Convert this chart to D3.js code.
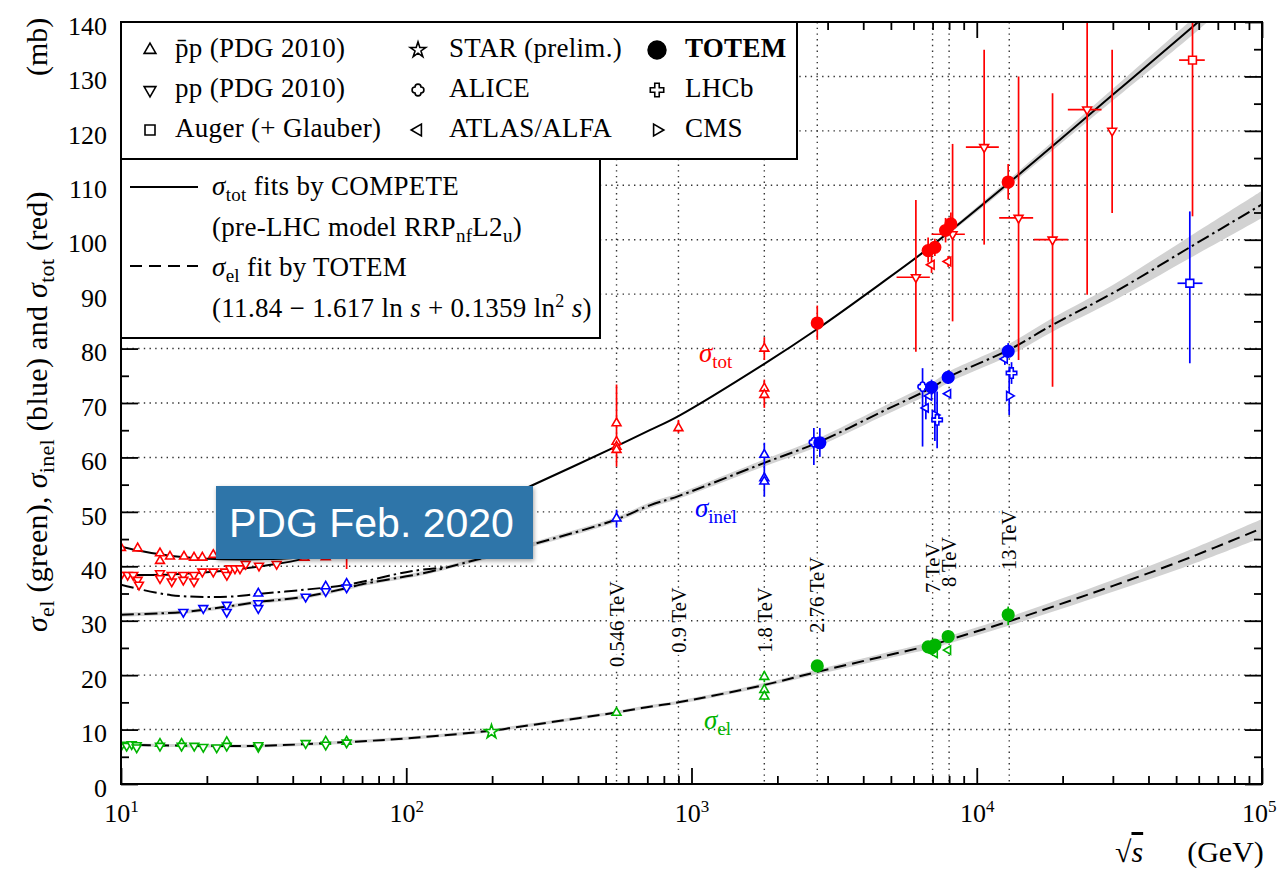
<!DOCTYPE html>
<html>
<head>
<meta charset="utf-8">
<script src="https://cdn.jsdelivr.net/npm/d3@7"></script>
<style>
  body { margin: 0; background: #fff; }
  svg { display: block; }
  svg text { font-family: "Liberation Serif", serif; }
  svg text.sans { font-family: "Liberation Sans", sans-serif; }
</style>
</head>
<body>
<svg id="chart" width="1277" height="876"></svg>
<script>
// ---------- data (sqrt s in GeV, cross sections in mb) ----------
const decades = [10, 100, 1000, 10000, 100000]
const yMajor = d3.range(0, 141, 10)
const yMinor = d3.range(5, 140, 10)
const energies = [546, 900, 1800, 2760, 7000, 8000, 13000]
const energyNames = ['0.546 TeV', '0.9 TeV', '1.8 TeV', '2.76 TeV', '7 TeV', '8 TeV', '13 TeV']

// fit curves [sqrt s, mb] and band half widths
const fitTot = [[10, 43.6], [12, 42.7], [15, 41.9], [20, 41.4], [30, 41.3], [50, 42.0], [100, 45.6], [200, 51.6],
  [272, 54.7], [538, 61.9], [714, 65.0], [900, 67.6], [1800, 77.2], [2760, 83.6], [4570, 91.8], [7000, 99.0],
  [13000, 110.5], [31200, 127.4], [59700, 140.0], [70000, 143.3]]
const bandTot = [0, 0, 0, 0, 0, 0, 0, 0, 0, 0, 0, 0, 0, 0, 0, 0.3, 0.6, 1.1, 1.5, 1.6]
const fitTotPp = [[10, 38.4], [15, 38.5], [20, 38.9], [25, 39.4], [30, 39.9], [35, 40.4], [45, 41.5], [60, 43.0], [80, 44.5], [100, 45.6]]
const fitInelPbarp = [[10, 36.6], [15, 34.7], [23.5, 34.4], [30, 34.9], [44, 35.7], [62, 36.6], [104, 39.1], [137, 39.8]]
const fitInel = [[10, 31.1], [16.5, 31.6], [23.5, 32.6], [30, 33.4], [44, 34.4], [62, 36.0], [70, 36.7], [104, 38.3],
  [121, 39.0], [137, 39.7], [272, 43.9], [538, 48.5], [714, 51.2], [900, 52.9], [1800, 59.0], [2760, 62.7],
  [4570, 68.2], [7000, 72.9], [8000, 74.8], [13000, 79.8], [18500, 84.4], [30000, 90.2], [55800, 98.6], [100000, 106.5]]
const bandInel = [0.35, 0.35, 0.35, 0.35, 0.35, 0.35, 0.35, 0.35, 0.35, 0.35, 0.4, 0.45, 0.5, 0.5, 0.65, 0.75,
  0.85, 0.95, 1.0, 1.1, 1.25, 1.5, 2.0, 2.5]
const fitEl = [[10, 7.2], [20, 7.0], [30, 7.0], [62, 7.7], [107, 8.5], [199, 9.8], [240, 10.4], [538, 13.1], [714, 14.2],
  [900, 15.0], [1800, 18.2], [2760, 20.6], [4570, 23.3], [7000, 25.6], [8000, 26.5], [13000, 29.9], [19500, 33.0],
  [30000, 36.4], [51000, 40.8], [100000, 47.0]]
const bandEl = [0.3, 0.3, 0.3, 0.3, 0.3, 0.3, 0.3, 0.3, 0.3, 0.3, 0.35, 0.45, 0.55, 0.65, 0.7, 0.8, 0.95, 1.1, 1.35, 1.7]

// measurements: [sqrt s, value, errLo, errHi, sLo, sHi]
const totPbarp = [[10, 43.4], [11.44, 43.3], [13.7, 42.4], [13.7, 41.0], [14.85, 41.8], [16.63, 41.8], [18.03, 41.6],
  [19.28, 41.6], [21.06, 42.1], [44, 41.6], [52.2, 41.7], [61.8, 42.5, 39.5, 45.5],
  [546, 66.3, 58.3, 73.4], [546, 62.9], [546, 62.0], [546, 61.4], [900, 65.4, 64.5, 66.9],
  [1800, 80.0, 77.9, 82.1], [1800, 72.7, 69.1, 74.3], [1800, 71.5]]
const totPp = [[10, 38.4], [10.55, 38.4], [11.04, 38.4], [11.44, 37.5], [11.56, 36.6], [13.7, 38.7], [13.7, 37.8],
  [15.06, 37.2], [15.06, 38.4], [16.54, 38.4], [16.54, 37.5], [18.03, 38.4], [18.03, 37.2], [19.28, 39.0],
  [21.06, 39.0], [23.15, 39.0], [23.5, 38.4], [24.1, 39.6], [25.09, 39.6], [26.13, 39.6], [27.36, 40.4],
  [30.46, 40.1], [35.13, 40.4],
  [6118, 93.1, 79.4, 107.3, 5235, 6848], [8228, 101.0, 85.0, 117.6, 6943, 9085],
  [10616, 117.0, 99.1, 134.9, 9159, 11951], [14015, 104.0, 77.9, 130.0, 11982, 15766],
  [18438, 100.0, 73.0, 126.9, 15853, 20860], [24380, 123.9, 89.9, 150, 20860, 27380],
  [29830, 120.0, 104.9, 134.9]]
const totAuger = [[57070, 133.0, 104.3, 150, 51210, 63010]]
const totTotem = [[2760, 84.7, 81.6, 87.9], [6754, 98.0, 95.8, 100.4], [7131, 98.6, 97.0, 100.2],
  [7775, 101.7, 99.5, 104.0], [8115, 102.9, 101.3, 105.0], [12888, 110.6, 107.4, 113.9]]
const totAtlas = [[6943, 95.4, 93.9, 97.6], [7940, 96.0, 95.0, 97.0]]

const inelPbarp = [[30.29, 35.0], [52.2, 36.3], [61.8, 36.8], [546, 48.8, 47.1, 50.4],
  [1800, 60.5, 58.5, 62.7], [1800, 56.2, 52.8, 58.5], [1800, 55.6]]
const inelPp = [[16.54, 31.6], [19.43, 32.3], [23.48, 32.9], [23.48, 31.6], [30.29, 33.2], [30.29, 32.3],
  [44.4, 34.4], [52.2, 35.4], [61.8, 36.1]]
const inelAuger = [[55840, 92.0, 77.3, 105.2, 50560, 61850]]
const inelTotem = [[2818, 62.7, 60.1, 65.4], [6943, 72.9, 71.5, 74.3], [7940, 74.7, 73.5, 76.0], [12888, 79.5, 78.3, 81.0]]
const inelAlice = [[2685, 62.8, 58.6, 65.4], [6457, 73.0, 62.0, 76.4]]
const inelAtlas = [[6630, 69.1, 67.0, 71.5], [6809, 71.3], [7940, 71.7], [12545, 78.1, 77.0, 79.5]]
const inelCms = [[7131, 67.8, 63.0, 72.0], [12993, 71.3, 67.8, 76.7]]
const inelLhcb = [[7263, 66.9, 61.7, 72.1], [13243, 75.5, 73.5, 77.5]]

const elPbarp = [[13.7, 7.4], [16.31, 7.4], [23.48, 7.7], [52.2, 7.8], [61.8, 7.8], [546, 13.1, 12.5, 13.7],
  [1800, 19.7, 18.7, 20.7], [1800, 17.3, 16.5, 18.1], [1800, 16.1, 15.4, 16.8]]
const elPp = [[10.06, 7.2], [10.47, 7.0], [10.9, 7.3], [11.35, 7.1], [11.35, 6.7], [13.7, 7.0], [16.31, 7.0],
  [18.07, 7.0], [19.43, 6.8], [21.65, 6.7], [23.48, 7.0], [30.29, 6.8], [30.29, 7.1], [44.4, 7.5], [52.2, 7.2], [61.8, 7.6]]
const elStar = [[199, 9.6]]
const elTotem = [[2760, 21.7, 21.0, 22.4], [6754, 25.2], [6943, 25.0], [7131, 25.5], [7940, 27.1, 26.0, 28.2],
  [12888, 31.1, 29.2, 32.6]]
const elAtlas = [[7131, 24.0], [7940, 24.6]]

// ---------- chart ----------
const svg = d3.select('#chart')
const red = '#ff0000', blue = '#0000ff', green = '#00b400'
const x = d3.scaleLog().domain([10, 1e5]).range([121, 1262])
const y = d3.scaleLinear().domain([0, 140]).range([784, 22])
const [x0, x1] = x.range(), [yb, yt] = y.range()

const defs = svg.append('defs')
defs.append('clipPath').attr('id', 'plot').append('rect')
  .attr('x', x0).attr('y', yt).attr('width', x1 - x0).attr('height', yb - yt)
defs.append('filter').attr('id', 'shadow').attr('x', '-10%').attr('y', '-10%').attr('width', '130%').attr('height', '140%')
  .append('feDropShadow').attr('dx', 1).attr('dy', 2).attr('stdDeviation', 2).attr('flood-opacity', 0.35)

// dotted grid
const grid = svg.append('g').attr('stroke', '#333').attr('stroke-width', 1.4).attr('stroke-dasharray', '1.4 4.3')
grid.selectAll('line.h').data(yMajor.filter(v => v > 0 && v < 140)).join('line').attr('class', 'h')
  .attr('x1', x0).attr('x2', x1).attr('y1', d => y(d)).attr('y2', d => y(d))
grid.selectAll('line.v').data(energies).join('line').attr('class', 'v')
  .attr('x1', d => x(d)).attr('x2', d => x(d)).attr('y1', yt).attr('y2', yb)

const plot = svg.append('g').attr('clip-path', 'url(#plot)')

// bands and fit lines
const smooth = d3.curveCatmullRom.alpha(0.5)
const band = d3.area().x(d => x(d[0])).y0(d => y(d[1] - d[2])).y1(d => y(d[1] + d[2])).curve(smooth)
const line = d3.line().x(d => x(d[0])).y(d => y(d[1])).curve(smooth)
const withBand = (fit, w) => fit.map((d, i) => [d[0], d[1], w[i]])
plot.append('path').attr('d', band(withBand(fitTot, bandTot))).attr('fill', '#d2d2d2')
plot.append('path').attr('d', band(withBand(fitInel, bandInel))).attr('fill', '#d2d2d2')
plot.append('path').attr('d', band(withBand(fitEl, bandEl))).attr('fill', '#d2d2d2')

const fits = [
  [fitTot, null], [fitTotPp, null],
  [fitInelPbarp, '13 4 2.5 4'], [fitInel, '13 4 2.5 4'],
  [fitEl, '12 6']
]
fits.forEach(([d, dash]) => {
  plot.append('path').attr('d', line(d)).attr('fill', 'none').attr('stroke', '#000')
    .attr('stroke-width', 2).attr('stroke-dasharray', dash)
})

// markers
const quatrefoil = {
  draw(ctx, size) {
    const r = Math.sqrt(size) / 4
    ctx.moveTo(r, -r)
    ctx.arc(r, 0, r, -Math.PI / 2, Math.PI / 2)
    ctx.arc(0, r, r, 0, Math.PI)
    ctx.arc(-r, 0, r, Math.PI / 2, Math.PI * 1.5)
    ctx.arc(0, -r, r, Math.PI, Math.PI * 2)
    ctx.closePath()
  }
}
const shapes = {
  up: [d3.symbolTriangle, 0], down: [d3.symbolTriangle, 180], left: [d3.symbolTriangle, -90],
  right: [d3.symbolTriangle, 90], square: [d3.symbolSquare, 0], circle: [d3.symbolCircle, 0],
  star: [d3.symbolStar, 0], clover: [quatrefoil, 0], plus: [d3.symbolCross, 0]
}
const marker = (g, shape, size, color, filled) => g
  .attr('d', d3.symbol().type(shapes[shape][0]).size(size)())
  .attr('fill', filled ? color : '#fff').attr('stroke', color).attr('stroke-width', 1.6)

const series = [
  [totPbarp, red, 'up', 34], [totPp, red, 'down', 34], [totAuger, red, 'square', 60], [totAtlas, red, 'left', 34],
  [totTotem, red, 'circle', 105],
  [inelPbarp, blue, 'up', 34], [inelPp, blue, 'down', 34], [inelAuger, blue, 'square', 60], [inelAlice, blue, 'clover', 85],
  [inelAtlas, blue, 'left', 30], [inelCms, blue, 'right', 34], [inelLhcb, blue, 'plus', 60], [inelTotem, blue, 'circle', 105],
  [elPbarp, green, 'up', 34], [elPp, green, 'down', 34], [elStar, green, 'star', 60], [elAtlas, green, 'left', 30],
  [elTotem, green, 'circle', 105]
]
series.forEach(([rows, color, shape, size]) => {
  const g = plot.append('g')
  const bars = g.append('g').attr('stroke', color).attr('stroke-width', 1.7)
  rows.forEach(r => {
    if (r[2] != null) bars.append('line').attr('x1', x(r[0])).attr('x2', x(r[0])).attr('y1', y(r[2])).attr('y2', y(r[3]))
    if (r[4] != null) bars.append('line').attr('x1', x(r[4])).attr('x2', x(r[5])).attr('y1', y(r[1])).attr('y2', y(r[1]))
  })
  g.selectAll('path').data(rows).join('path')
    .attr('transform', d => `translate(${x(d[0])},${y(d[1])}) rotate(${shapes[shape][1]})`)
    .call(marker, shape, size, color, shape === 'circle')
})

// energy labels
const labelBase = [21.5, 24.1, 24.1, 27.8, 35.1, 36.2, 39.3]
svg.append('g').selectAll('text').data(energies).join('text')
  .attr('transform', (d, i) => `translate(${x(d)},${y(labelBase[i])}) rotate(-90)`)
  .attr('dy', '0.35em').attr('font-size', 20.5)
  .attr('stroke', '#fff').attr('stroke-width', 5).attr('paint-order', 'stroke')
  .text((d, i) => energyNames[i])

// curve names
const sigma = (g, sub, color, px, py) => {
  const t = g.append('text').attr('x', px).attr('y', py).attr('fill', color).attr('font-size', 27)
  t.append('tspan').attr('font-style', 'italic').text('σ')
  t.append('tspan').attr('font-size', 19).attr('dy', 6).text(sub)
}
sigma(svg, 'tot', red, 699, 362)
sigma(svg, 'inel', blue, 695, 517)
sigma(svg, 'el', green, 704, 729)

// axes
const styleAxis = g => {
  g.select('.domain').remove()
  g.selectAll('.tick line').attr('stroke', '#000').attr('stroke-width', 1.8)
  g.attr('font-size', 26)
}
svg.append('g').attr('transform', `translate(${x0},0)`)
  .call(d3.axisLeft(y).tickValues(yMajor).tickSize(-17).tickPadding(14)).call(styleAxis)
  .selectAll('.tick text').attr('dy', '0.47em')
svg.append('g').attr('transform', `translate(${x0},0)`)
  .call(d3.axisLeft(y).tickValues(yMinor).tickSize(-8).tickFormat('')).call(styleAxis)
svg.append('g').attr('transform', `translate(${x1},0)`)
  .call(d3.axisRight(y).tickValues(yMajor).tickSize(-17).tickFormat('')).call(styleAxis)
svg.append('g').attr('transform', `translate(${x1},0)`)
  .call(d3.axisRight(y).tickValues(yMinor).tickSize(-8).tickFormat('')).call(styleAxis)

const xMinor = decades.slice(0, -1).flatMap(d => d3.range(2, 10).map(k => k * d))
const gx = svg.append('g').attr('transform', `translate(0,${yb})`)
  .call(d3.axisBottom(x).tickValues(decades).tickSize(-16)).call(styleAxis)
gx.selectAll('.tick text').text('').attr('y', 38).attr('dy', null).each(function (d) {
  const t = d3.select(this)
  // last label sits against the right edge of the page
  if (d === decades[decades.length - 1]) t.attr('text-anchor', 'end').attr('x', 1276 - x(d))
  t.append('tspan').text('10')
  t.append('tspan').attr('dy', -10).attr('font-size', 17).text(Math.round(Math.log10(d)))
})
svg.append('g').attr('transform', `translate(0,${yb})`)
  .call(d3.axisBottom(x).tickValues(xMinor).tickSize(-8).tickFormat('')).call(styleAxis)
svg.append('g').attr('transform', `translate(0,${yt})`)
  .call(d3.axisTop(x).tickValues(decades).tickSize(-16).tickFormat('')).call(styleAxis)
svg.append('g').attr('transform', `translate(0,${yt})`)
  .call(d3.axisTop(x).tickValues(xMinor).tickSize(-8).tickFormat('')).call(styleAxis)

// legend boxes
const leg = svg.append('g').attr('font-size', 27).attr('letter-spacing', 0.3)
leg.append('rect').attr('x', x0).attr('y', yt).attr('width', 797 - x0).attr('height', 159 - yt)
  .attr('fill', '#fff').attr('stroke', '#000').attr('stroke-width', 2)
leg.append('rect').attr('x', x0).attr('y', 159).attr('width', 600 - x0).attr('height', 338 - 159)
  .attr('fill', '#fff').attr('stroke', '#000').attr('stroke-width', 2)

const legendItems = [
  ['up', 'p̄p (PDG 2010)', 0, 0], ['down', 'pp (PDG 2010)', 0, 1], ['square', 'Auger (+ Glauber)', 0, 2],
  ['star', 'STAR (prelim.)', 1, 0], ['clover', 'ALICE', 1, 1], ['left', 'ATLAS/ALFA', 1, 2],
  ['circle', 'TOTEM', 2, 0], ['plus', 'LHCb', 2, 1], ['right', 'CMS', 2, 2]
]
const colSym = [150, 418, 657], colText = [175, 449, 685]
const legSize = { up: 60, down: 60, square: 100, star: 75, clover: 140, left: 60, circle: 250, plus: 100, right: 60 }
legendItems.forEach(([shape, label, c, r]) => {
  leg.append('path').attr('transform', `translate(${colSym[c]},${50 + r * 40}) rotate(${shapes[shape][1]})`)
    .call(marker, shape, legSize[shape], '#000', shape === 'circle')
  leg.append('text').attr('x', colText[c]).attr('y', 57 + r * 40)
    .attr('font-weight', shape === 'circle' ? 'bold' : null).text(label)
})

leg.append('line').attr('x1', 130).attr('x2', 198).attr('y1', 187).attr('y2', 187).attr('stroke', '#000').attr('stroke-width', 2)
leg.append('line').attr('x1', 130).attr('x2', 198).attr('y1', 266).attr('y2', 266).attr('stroke', '#000')
  .attr('stroke-width', 2).attr('stroke-dasharray', '12 7')
const t1 = leg.append('text').attr('x', 212).attr('y', 195)
t1.append('tspan').attr('font-style', 'italic').text('σ')
t1.append('tspan').attr('font-size', 19).attr('dy', 6).text('tot')
t1.append('tspan').attr('dy', -6).text(' fits by COMPETE')
const t2 = leg.append('text').attr('x', 212).attr('y', 236)
t2.append('tspan').text('(pre-LHC model RRP')
t2.append('tspan').attr('font-size', 19).attr('dy', 6).text('nf')
t2.append('tspan').attr('dy', -6).text('L2')
t2.append('tspan').attr('font-size', 19).attr('dy', 6).text('u')
t2.append('tspan').attr('dy', -6).text(')')
const t3 = leg.append('text').attr('x', 212).attr('y', 276)
t3.append('tspan').attr('font-style', 'italic').text('σ')
t3.append('tspan').attr('font-size', 19).attr('dy', 6).text('el')
t3.append('tspan').attr('dy', -6).text(' fit by TOTEM')
const t4 = leg.append('text').attr('x', 212).attr('y', 317)
t4.append('tspan').text('(11.84 − 1.617 ln ')
t4.append('tspan').attr('font-style', 'italic').text('s')
t4.append('tspan').text(' + 0.1359 ln')
t4.append('tspan').attr('font-size', 18).attr('dy', -10).text('2')
t4.append('tspan').attr('dy', 10).text(' ')
t4.append('tspan').attr('font-style', 'italic').text('s')
t4.append('tspan').text(')')

// frame
svg.append('rect').attr('x', x0).attr('y', yt).attr('width', x1 - x0).attr('height', yb - yt)
  .attr('fill', 'none').attr('stroke', '#000').attr('stroke-width', 2)

// axis titles
const yt1 = svg.append('text').attr('transform', 'translate(47,632) rotate(-90)')
  .attr('font-size', 30).attr('letter-spacing', 0.3)
;[['σ', 'el', ' (green), '], ['σ', 'inel', ' (blue) and '], ['σ', 'tot', ' (red)']].forEach(([s, sub, rest]) => {
  yt1.append('tspan').attr('font-style', 'italic').text(s)
  yt1.append('tspan').attr('font-size', 22).attr('dy', 7).text(sub)
  yt1.append('tspan').attr('dy', -7).text(rest)
})
svg.append('text').attr('transform', 'translate(47,76) rotate(-90)').attr('font-size', 30).text('(mb)')

const xt = svg.append('text').attr('x', 1115).attr('y', 862).attr('font-size', 30)
xt.append('tspan').text('√')
xt.append('tspan').attr('font-style', 'italic').attr('text-decoration', 'overline').text('s')
xt.append('tspan').attr('dx', 44).text('(GeV)')

// PDG stamp
const stamp = svg.append('g')
stamp.append('rect').attr('x', 216).attr('y', 486).attr('width', 317).attr('height', 73)
  .attr('fill', '#2e74a9').attr('filter', 'url(#shadow)')
stamp.append('text').attr('class', 'sans').attr('x', 229).attr('y', 537).attr('fill', '#fff')
  .attr('font-size', 41).text('PDG Feb. 2020')
</script>
</body>
</html>
